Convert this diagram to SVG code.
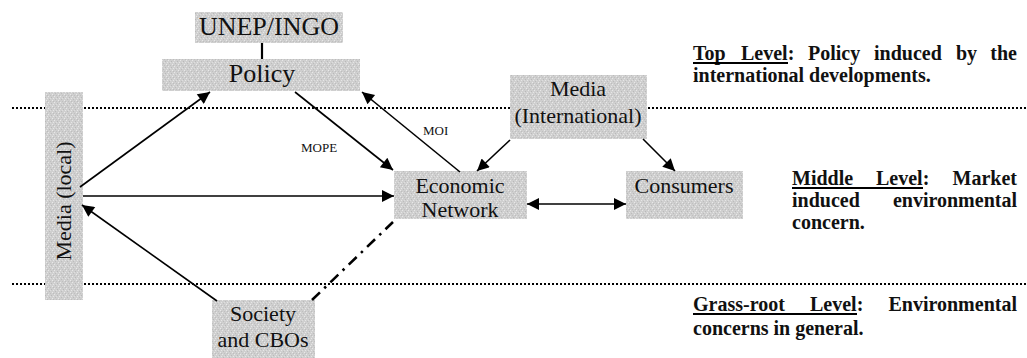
<svg xmlns="http://www.w3.org/2000/svg" width="1027" height="358" viewBox="0 0 1027 358">
<style>
.box{fill:url(#speck);}
.nt{font-family:"Liberation Serif","Times New Roman",serif;font-size:22px;fill:#111;text-anchor:middle;}
.big{font-size:26px;}
.lbl{font-family:"Liberation Serif","Times New Roman",serif;font-size:13px;fill:#111;}
.rt{font-family:"Liberation Serif","Times New Roman",serif;font-size:20px;font-weight:bold;fill:#111;}
.end{text-anchor:end;}
.ln{stroke:#000;stroke-width:1.6;fill:none;}
.thick{stroke-width:2.2;}
.dashdot{stroke-width:2.6;stroke-dasharray:11 6 2.5 6;}
.dot{stroke:#000;stroke-width:2;stroke-dasharray:2 2;fill:none;}
.ul{stroke:#000;stroke-width:2;}
</style>
<defs>
<pattern id="speck" width="6" height="6" patternUnits="userSpaceOnUse">
<rect width="6" height="6" fill="#cfcfcf"/>
<rect x="0" y="0" width="1" height="1" fill="#e8e8e8"/>
<rect x="3" y="1" width="1" height="1" fill="#b9b9b9"/>
<rect x="5" y="2" width="1" height="1" fill="#e6e6e6"/>
<rect x="1" y="3" width="1" height="1" fill="#bcbcbc"/>
<rect x="4" y="4" width="1" height="1" fill="#e9e9e9"/>
<rect x="2" y="5" width="1" height="1" fill="#c0c0c0"/>
<rect x="2" y="2" width="1" height="1" fill="#dedede"/>
<rect x="5" y="5" width="1" height="1" fill="#bdbdbd"/>
</pattern>
<marker id="ah" viewBox="0 0 10 10" refX="10" refY="5" markerWidth="16" markerHeight="12" markerUnits="userSpaceOnUse" orient="auto-start-reverse">
<path d="M0,0 L10,5 L0,10 z" fill="#000"/>
</marker>
</defs>

<g id="levels">
<line class="dot" x1="12" y1="108" x2="1027" y2="108"/>
<line class="dot" x1="12" y1="284" x2="1027" y2="284"/>
</g>

<g id="unep">
<rect class="box" x="195" y="12" width="148" height="31"/>
<text class="nt big" x="269" y="35">UNEP/INGO</text>
</g>
<g id="policy">
<rect class="box" x="162" y="59" width="198" height="32"/>
<text class="nt big" x="262" y="82">Policy</text>
</g>
<g id="media-local">
<rect class="box" x="45" y="92" width="38" height="208"/>
<text class="nt" transform="translate(71,201) rotate(-90)" x="0" y="0">Media (local)</text>
</g>
<g id="economic">
<rect class="box" x="394" y="171" width="133" height="48"/>
<text class="nt" x="460" y="193">Economic</text>
<text class="nt" x="460" y="217">Network</text>
</g>
<g id="consumers">
<rect class="box" x="626" y="171" width="117" height="48"/>
<text class="nt" x="684" y="193">Consumers</text>
</g>
<g id="media-intl">
<rect class="box" x="510" y="75" width="137" height="64"/>
<text class="nt" x="578" y="96">Media</text>
<text class="nt" x="578" y="123">(International)</text>
</g>
<g id="society">
<rect class="box" x="212" y="300" width="103" height="58"/>
<text class="nt" x="263" y="321">Society</text>
<text class="nt" x="263" y="347">and CBOs</text>
</g>

<g id="connectors">
<line class="ln thick" x1="262" y1="43" x2="262" y2="59"/>
<line class="ln" x1="80" y1="187" x2="210" y2="92" marker-end="url(#ah)"/>
<line class="ln" x1="83" y1="196" x2="394" y2="196" marker-end="url(#ah)"/>
<line class="ln" x1="217" y1="301" x2="82" y2="205" marker-end="url(#ah)"/>
<line class="ln" x1="295" y1="92" x2="393" y2="170" marker-end="url(#ah)"/>
<line class="ln" x1="460" y1="172" x2="362" y2="92" marker-end="url(#ah)"/>
<line class="ln" x1="510" y1="140" x2="477" y2="171" marker-end="url(#ah)"/>
<line class="ln" x1="643" y1="139" x2="675" y2="171" marker-end="url(#ah)"/>
<line class="ln" x1="527" y1="204" x2="626" y2="204" marker-start="url(#ah)" marker-end="url(#ah)"/>
<line class="ln dashdot" x1="312" y1="300" x2="393" y2="222"/>
<text class="lbl" x="301" y="152">MOPE</text>
<text class="lbl" x="423" y="135">MOI</text>
</g>

<g id="level-notes">
<text class="rt" y="60"><tspan x="693">Top</tspan><tspan x="741">Level:</tspan><tspan x="808">Policy</tspan><tspan x="874">induced</tspan><tspan x="956">by</tspan></text>
<text class="rt end" x="1017" y="60">the</text>
<line class="ul" x1="693" y1="63" x2="788" y2="63"/>
<text class="rt" x="693" y="82">international developments.</text>

<text class="rt" y="185"><tspan x="792">Middle</tspan><tspan x="876">Level:</tspan></text>
<text class="rt end" x="1017" y="185">Market</text>
<line class="ul" x1="792" y1="188" x2="923" y2="188"/>
<text class="rt" x="792" y="207">induced</text>
<text class="rt end" x="1017" y="207">environmental</text>
<text class="rt" x="792" y="229">concern.</text>

<text class="rt" y="311"><tspan x="693">Grass-root</tspan><tspan x="810">Level:</tspan></text>
<text class="rt end" x="1017" y="311">Environmental</text>
<line class="ul" x1="693" y1="314" x2="857" y2="314"/>
<text class="rt" x="693" y="335">concerns in general.</text>
</g>
</svg>
